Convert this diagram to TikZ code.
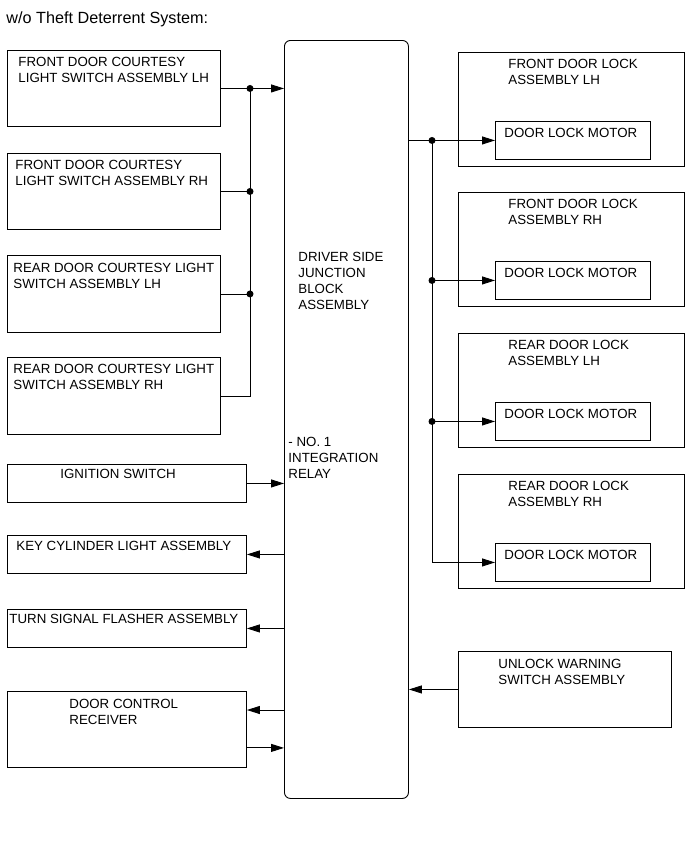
\documentclass[tikz,border=0pt]{standalone}
\usepackage{fontspec}
\setmainfont{Liberation Sans}
\usetikzlibrary{arrows.meta}

\begin{document}
\begin{tikzpicture}[x=1pt,y=-1pt,line width=0.9pt]
    \tikzstyle{box}=[draw,rectangle,inner sep=0pt,anchor=north west]
    \tikzstyle{lbl}=[inner sep=0pt,anchor=north west,align=left,font=\fontsize{13.3}{16}\selectfont]
    \tikzstyle{arr}=[-{Triangle[length=13pt,width=8pt]}]
    \tikzstyle{dot}=[circle,fill=black,inner sep=0pt,minimum size=7pt]
    \useasboundingbox (0,0) rectangle (691,854);
      \node[inner sep=0pt,anchor=north west,font=\fontsize{16.2}{19}\selectfont] (title) at (6,11) {w/o Theft Deterrent System:};
      \node[box,rounded corners=6pt,minimum width=124pt,minimum height=758pt] (JB) at (284,40) {};
      \node[lbl] (JB_t1) at (298,252) {DRIVER SIDE\\JUNCTION\\BLOCK\\ASSEMBLY};
      \node[lbl] (JB_t2) at (288,437) {- NO. 1\\INTEGRATION\\RELAY};
      \node[box,minimum width=213pt,minimum height=76pt] (S_1) at (7,50) {};
      \node[box,minimum width=213pt,minimum height=76pt] (S_2) at (7,153) {};
      \node[box,minimum width=213pt,minimum height=77pt] (S_3) at (7,255) {};
      \node[box,minimum width=213pt,minimum height=77pt] (S_4) at (7,357) {};
      \node[lbl] (S_1t) at (18,57)  {FRONT DOOR COURTESY\\LIGHT SWITCH ASSEMBLY LH};
      \node[lbl] (S_2t) at (15,160) {FRONT DOOR COURTESY\\LIGHT SWITCH ASSEMBLY RH};
      \node[lbl] (S_3t) at (13,263) {REAR DOOR COURTESY LIGHT\\SWITCH ASSEMBLY LH};
      \node[lbl] (S_4t) at (13,364) {REAR DOOR COURTESY LIGHT\\SWITCH ASSEMBLY RH};
      \node[box,minimum width=239pt,minimum height=38pt] (IG) at (7,464) {};
      \node[box,minimum width=239pt,minimum height=38pt] (KC) at (7,535) {};
      \node[box,minimum width=239pt,minimum height=38pt] (TS) at (7,609) {};
      \node[box,minimum width=239pt,minimum height=76pt] (DC) at (7,691) {};
      \node[lbl] (IG_t) at (60,469) {IGNITION SWITCH};
      \node[lbl] (KC_t) at (16,541) {KEY CYLINDER LIGHT ASSEMBLY};
      \node[lbl] (TS_t) at (9,614)  {TURN SIGNAL FLASHER ASSEMBLY};
      \node[lbl] (DC_t) at (69,699) {DOOR CONTROL\\RECEIVER};
      \foreach \i/\y/\t in {1/52/FRONT DOOR LOCK\\ASSEMBLY LH,2/192/FRONT DOOR LOCK\\ASSEMBLY RH,3/333/REAR DOOR LOCK\\ASSEMBLY LH,4/474/REAR DOOR LOCK\\ASSEMBLY RH} {
        \node[box,minimum width=226pt,minimum height=114pt] (L_\i) at (458,\y) {};
        \node[lbl] (L_\i t) at (508,\y+7) {\t};
        \node[box,minimum width=155pt,minimum height=38pt] (M_\i) at (495,\y+69) {};
        \node[lbl] (M_\i t) at (504,\y+76) {DOOR LOCK MOTOR};
      }
      \node[box,minimum width=213pt,minimum height=76pt] (UW) at (458,651) {};
      \node[lbl] (UW_t) at (498,659) {UNLOCK WARNING\\SWITCH ASSEMBLY};
      \coordinate (bus) at (250,0);
      \coordinate (rbus) at (432,0);
      \draw[arr] (S_1.east) -- (S_1.east -| JB.west);
      \draw (S_2.east) -- (S_2.east -| bus);
      \draw (S_3.east) -- (S_3.east -| bus);
      \draw (S_1.east -| bus) -- (S_4.east -| bus) -- (S_4.east);
      \node[dot] (D_1) at (S_1.east -| bus) {};
      \node[dot] (D_2) at (S_2.east -| bus) {};
      \node[dot] (D_3) at (S_3.east -| bus) {};
      \draw[arr] (IG.east) -- (IG.east -| JB.west);
      \draw[arr] (KC.east -| JB.west) -- (KC.east);
      \draw[arr] (TS.east -| JB.west) -- (TS.east);
      \coordinate (DC_a) at ([yshift=-19pt]DC.north east);
      \coordinate (DC_b) at ([yshift=20pt]DC.south east);
      \draw[arr] (DC_a -| JB.west) -- (DC_a);
      \draw[arr] (DC_b) -- (DC_b -| JB.west);
      \draw (M_1.west -| JB.east) -- (M_1.west -| rbus);
      \draw (M_1.west -| rbus) -- (M_4.west -| rbus);
      \foreach \i in {1,2,3,4}
        \draw[arr] (M_\i.west -| rbus) -- (M_\i.west);
      \foreach \i in {1,2,3}
        \node[dot] (R_\i) at (M_\i.west -| rbus) {};
      \draw[arr] (UW.west) -- (UW.west -| JB.east);
    \end{tikzpicture}
\end{document}
